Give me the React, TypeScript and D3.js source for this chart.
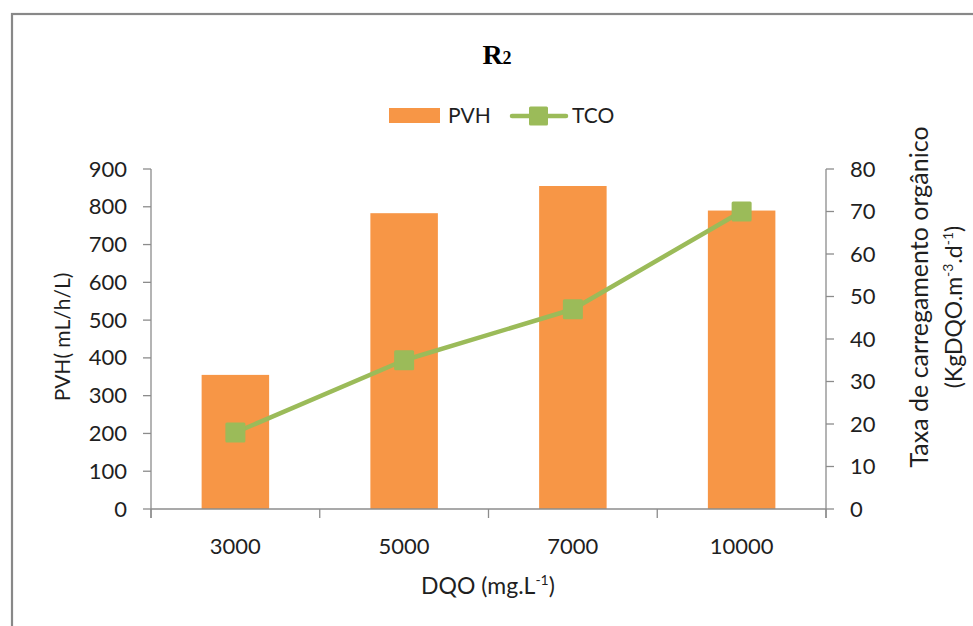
import React from "react";
import * as d3 from "d3";

// Categories (DQO, mg/L) and series values
const categories = ["3000", "5000", "7000", "10000"];
const pvhValues = [355, 783, 855, 790]; // PVH (mL/h/L), left axis
const tcoValues = [18, 35, 47, 70]; // TCO (KgDQO.m-3.d-1), right axis
const leftTicks = [0, 100, 200, 300, 400, 500, 600, 700, 800, 900];
const rightTicks = [0, 10, 20, 30, 40, 50, 60, 70, 80];

const W = 973;
const H = 626;
const plot = { left: 151, right: 826, top: 169, bottom: 509 };

const ORANGE = "#F79646";
const GREEN = "#9BBB59";
const AXIS = "#8C8C8C";
const TEXT = "#1f1f1f";
const FONT = "Lato, 'Noto Sans', sans-serif";

export default function App() {
  const x = d3
    .scaleBand<string>()
    .domain(categories)
    .range([plot.left, plot.right])
    .paddingInner(0.6)
    .paddingOuter(0.3);
  const band = d3.scaleBand<string>().domain(categories).range([plot.left, plot.right]);
  const yL = d3.scaleLinear().domain([0, 900]).range([plot.bottom, plot.top]);
  const yR = d3.scaleLinear().domain([0, 80]).range([plot.bottom, plot.top]);

  const cx = (c: string) => (band(c) as number) + band.bandwidth() / 2;
  const line = d3
    .line<number>()
    .x((_, i) => cx(categories[i]))
    .y((d) => yR(d));

  const boundaries = categories.map((c) => band(c) as number).concat([plot.right]);
  const ms = 20;

  return (
    <svg
      width={W}
      height={H}
      style={{ position: "absolute", left: 0, top: 0, background: "#fff" }}
      fontFamily={FONT}
    >
      <rect x={0} y={0} width={W} height={H} fill="#fff" />
      {/* outer chart frame */}
      <rect x={12} y={14} width={1000} height={700} fill="none" stroke="#888" strokeWidth={2.2} />

      {/* title */}
      <text x={497} y={64} textAnchor="middle" fontFamily="'Liberation Serif', 'DejaVu Serif', serif" fontWeight="bold" fill="#000">
        <tspan fontSize={28}>R</tspan>
        <tspan fontSize={18}>2</tspan>
      </text>

      {/* legend */}
      <rect x={389} y={108} width={51} height={15} fill={ORANGE} />
      <text x={448} y={123} fontSize={21} fill={TEXT}>PVH</text>
      <line x1={512} x2={566} y1={116} y2={116} stroke={GREEN} strokeWidth={4.5} strokeLinecap="round" />
      <rect x={529} y={106.5} width={19} height={19} rx={1.5} fill={GREEN} />
      <text x={572} y={123} fontSize={21} fill={TEXT}>TCO</text>

      {/* bars */}
      {categories.map((c, i) => (
        <rect
          key={c}
          x={x(c)}
          y={yL(pvhValues[i])}
          width={x.bandwidth()}
          height={plot.bottom - yL(pvhValues[i])}
          fill={ORANGE}
        />
      ))}

      {/* left axis */}
      <line x1={plot.left} x2={plot.left} y1={plot.top} y2={plot.bottom + 9} stroke={AXIS} strokeWidth={1.3} />
      {leftTicks.map((t) => (
        <g key={"l" + t}>
          <line x1={plot.left - 8} x2={plot.left} y1={yL(t)} y2={yL(t)} stroke={AXIS} strokeWidth={1.3} />
          <text x={127} y={yL(t) + 7.5} textAnchor="end" fontSize={22} fill={TEXT}>
            {t}
          </text>
        </g>
      ))}

      {/* right axis */}
      <line x1={plot.right} x2={plot.right} y1={plot.top} y2={plot.bottom + 9} stroke={AXIS} strokeWidth={1.3} />
      {rightTicks.map((t) => (
        <g key={"r" + t}>
          <line x1={plot.right} x2={plot.right + 8} y1={yR(t)} y2={yR(t)} stroke={AXIS} strokeWidth={1.3} />
          <text x={850} y={yR(t) + 7.5} textAnchor="start" fontSize={22} fill={TEXT}>
            {t}
          </text>
        </g>
      ))}

      {/* category axis */}
      <line x1={plot.left} x2={plot.right} y1={plot.bottom} y2={plot.bottom} stroke={AXIS} strokeWidth={1.3} />
      {boundaries.map((b, i) => (
        <line key={"b" + i} x1={b} x2={b} y1={plot.bottom} y2={plot.bottom + 9} stroke={AXIS} strokeWidth={1.3} />
      ))}
      {categories.map((c) => (
        <text key={"c" + c} x={cx(c)} y={554} textAnchor="middle" fontSize={22} fill={TEXT}>
          {c}
        </text>
      ))}

      {/* TCO line and markers */}
      <path d={line(tcoValues) || ""} fill="none" stroke={GREEN} strokeWidth={4.5} strokeLinejoin="round" />
      {tcoValues.map((v, i) => (
        <rect
          key={"m" + i}
          x={cx(categories[i]) - ms / 2}
          y={yR(v) - ms / 2}
          width={ms}
          height={ms}
          rx={1.5}
          fill={GREEN}
        />
      ))}

      {/* axis titles */}
      <text x={488} y={594} textAnchor="middle" fontSize={23} fill={TEXT}>
        DQO (mg.L<tspan fontSize={14} dy={-9}>-1</tspan>
        <tspan dy={9}>)</tspan>
      </text>
      <text
        transform="translate(70,337) rotate(-90)"
        textAnchor="middle"
        fontSize={21}
        fill={TEXT}
      >
        PVH( mL/h/L)
      </text>
      <g transform="translate(0,297) rotate(-90)">
        <text x={0} y={928} textAnchor="middle" fontSize={25} fill={TEXT}>
          Taxa de carregamento orgânico
        </text>
        <text x={-10} y={962} textAnchor="middle" fontSize={23} fill={TEXT}>
          (KgDQO.m<tspan fontSize={14} dy={-9}>-3</tspan>
          <tspan dy={9}>.d</tspan>
          <tspan fontSize={14} dy={-9}>-1</tspan>
          <tspan dy={9}>)</tspan>
        </text>
      </g>
    </svg>
  );
}
